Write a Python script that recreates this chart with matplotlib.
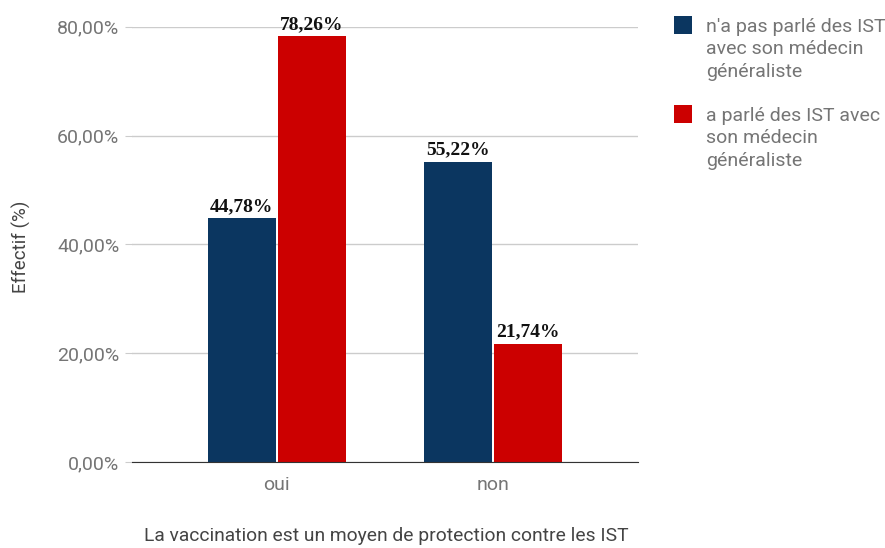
import numpy as np
from matplotlib import pyplot as plt
from matplotlib.patches import Rectangle

categories = ['oui', 'non']
series_names = ["n'a pas parlé des IST\navec son médecin\ngénéraliste",
                "a parlé des IST avec\nson médecin\ngénéraliste"]
pas_parle = [44.78, 55.22]
a_parle = [78.26, 21.74]
yticks = [0, 20, 40, 60, 80]
colors = ['#0b3660', '#cc0000']

plt.rcParams['font.family'] = ['Roboto', 'DejaVu Sans']
grey = '#757575'
W, H = 885, 548

fig = plt.figure(figsize=(8.85, 5.48), dpi=100)
ax = fig.add_axes([0.149, 0.157, 0.572, 0.794])

x = np.arange(len(categories))
w = 0.315
gap = 0.005
b1 = ax.bar(x - w / 2 - gap, pas_parle, w, color=colors[0], zorder=3)
b2 = ax.bar(x + w / 2 + gap, a_parle, w, color=colors[1], zorder=3)

# value labels above bars
for bars, vals in [(b1, pas_parle), (b2, a_parle)]:
    for rect, v in zip(bars, vals):
        ax.text(rect.get_x() + rect.get_width() / 2, v + 0.6,
                ('%.2f' % v).replace('.', ',') + '%',
                ha='center', va='bottom', fontsize=14, fontweight='bold',
                family='Liberation Serif', color='#111111')

ax.set_xlim(-0.67, 1.67)
ax.set_ylim(0, 80)
ax.set_yticks(yticks)
ax.set_yticklabels([('%.2f' % t).replace('.', ',') + '%' for t in yticks])
ax.set_xticks(x)
ax.set_xticklabels(categories)
ax.tick_params(axis='y', length=5, color='#cccccc', labelcolor=grey,
               labelsize=14, pad=4)
ax.tick_params(axis='x', length=0, labelcolor=grey, labelsize=14, pad=10)
ax.grid(axis='y', color='#cccccc', linewidth=1, zorder=0)
for s in ['top', 'right', 'left']:
    ax.spines[s].set_visible(False)
ax.spines['bottom'].set_color('#333333')
ax.spines['bottom'].set_zorder(4)

fig.text(21 / W, 1 - 247 / H, 'Effectif (%)', rotation=90, color='#444444',
         fontsize=13.5, ha='center', va='center')
fig.text(386 / W, 1 - 536 / H,
         'La vaccination est un moyen de protection contre les IST',
         color='#444444', fontsize=13.9, ha='center', va='center')

# legend: square + wrapped text per series
for i, (name, c) in enumerate(zip(series_names, colors)):
    top = 16 + i * 89
    fig.patches.append(Rectangle((674 / W, 1 - (top + 18) / H), 18 / W, 18 / H,
                                 transform=fig.transFigure, facecolor=c,
                                 edgecolor='none'))
    fig.text(706 / W, 1 - (top + 2) / H, name, color=grey, fontsize=14,
             ha='left', va='top', linespacing=1.32)

fig.savefig('out.png', dpi=100)
